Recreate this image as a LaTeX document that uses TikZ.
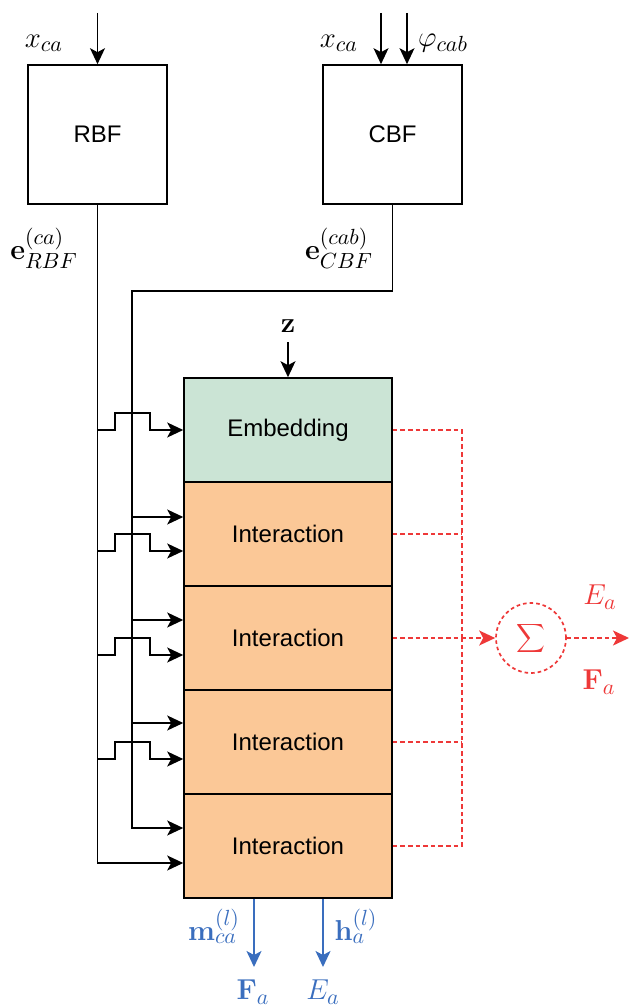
\documentclass[tikz,border=0pt]{standalone}
\usepackage[no-math]{fontspec}
\setmainfont{Liberation Sans}
\DeclareMathSizes{14.4}{14.4}{10.95}{8}
\usetikzlibrary{arrows.meta}
\definecolor{embfill}{RGB}{203,228,213}
\definecolor{intfill}{RGB}{251,200,151}
\definecolor{sumred}{RGB}{238,56,56}
\definecolor{outblue}{RGB}{58,110,190}

\begin{document}
\begin{tikzpicture}[x=0.5pt,y=-0.5pt,
  font=\fontsize{12}{14}\selectfont,
  line width=0.8pt,
  tip/.style={-{Stealth[length=8pt,width=7.5pt,inset=2pt]}},
  basisbox/.style={draw,minimum width=69.5pt,minimum height=69.5pt,inner sep=0pt},
  layer/.style={draw,minimum width=104pt,minimum height=52pt,inner sep=0pt},
  lbl/.style={inner sep=0pt,font=\fontsize{14.4}{16}\selectfont},
  rdash/.style={draw=sumred,line width=0.85pt,dash pattern=on 2.3pt off 1.5pt},
  redtip/.style={-{Stealth[length=8pt,width=7.5pt,inset=2pt,fill=sumred]}},
  bluearrow/.style={draw=outblue,tip},
]
\useasboundingbox (0,0) rectangle (630,1005);

% basis function blocks
\node[basisbox] (rbf) at (97.5,134.5) {RBF};
\node[basisbox] (cbf) at (392.5,134.5) {CBF};

% input arrows and their labels
\coordinate (rin) at (97.5,13);
\coordinate (cin1) at (381,13);
\coordinate (cin2) at (407,13);
\draw[tip] (rin) -- (rbf.north);
\draw[tip] (cin1) -- (cin1 |- cbf.north);
\draw[tip] (cin2) -- (cin2 |- cbf.north);
\node[lbl] (lxr) at (44,43) {$x_{ca}$};
\node[lbl] (lxc) at (339,43) {$x_{ca}$};
\node[lbl] (lphi) at (443,43) {$\varphi_{cab}$};
\node[lbl] (lerbf) at (44,248) {$\mathbf{e}_{RBF}^{(ca)}$};
\node[lbl] (lecbf) at (339,248) {$\mathbf{e}_{CBF}^{(cab)}$};

% embedding and interaction stack
\node[layer,fill=embfill] (emb) at (288,430) {Embedding};
\node[layer,fill=intfill] (int1) at (288,534) {Interaction};
\node[layer,fill=intfill] (int2) at (288,638) {Interaction};
\node[layer,fill=intfill] (int3) at (288,742) {Interaction};
\node[layer,fill=intfill] (int4) at (288,846) {Interaction};

% atom type input
\node[lbl] (lz) at (288,326) {$\mathbf{z}$};
\coordinate (zin) at (288,342);
\draw[tip] (zin) -- (emb.north);

% RBF trunk with hops over the CBF trunk
\coordinate (r0) at (97.5,430);
\coordinate (r1) at (97.5,551);
\coordinate (r2) at (97.5,655);
\coordinate (r3) at (97.5,759);
\coordinate (r4) at (97.5,863);
\draw[tip] (rbf.south) -- (r4) -- (int4.west |- r4);
\foreach \p/\b in {r0/emb,r1/int1,r2/int2,r3/int3}{
  \draw[tip] (\p) -- ++(17.5,0) -- ++(0,-17) -- ++(35,0) -- ++(0,17) -- (\b.west |- \p);
}

% CBF trunk
\coordinate (cturn) at (392.5,291);
\coordinate (cbend) at (132,291);
\coordinate (c1) at (132,517);
\coordinate (c2) at (132,620);
\coordinate (c3) at (132,723);
\coordinate (c4) at (132,828);
\draw[tip] (cbf.south) -- (cturn) -- (cbend) -- (c4) -- (int4.west |- c4);
\foreach \p/\b in {c1/int1,c2/int2,c3/int3}{
  \draw[tip] (\p) -- (\b.west |- \p);
}

% summation of the per-block outputs
\node[draw=sumred,circle,line width=0.85pt,dash pattern=on 1.8pt off 1.5pt,minimum size=35pt,inner sep=0pt,text=sumred,font=\fontsize{17}{19}\selectfont] (sum) at (531,638) {$\displaystyle\sum$};
\coordinate (busx) at (462,0);
\draw[rdash] (emb.east) -- (emb.east -| busx) -- (sum.west -| busx);
\draw[rdash] (int4.east) -- (int4.east -| busx) -- (sum.west -| busx);
\draw[rdash] (int1.east) -- (int1.east -| busx);
\draw[rdash] (int3.east) -- (int3.east -| busx);
\draw[rdash,redtip] (int2.east) -- (sum.west);
\coordinate (sout) at (629,638);
\draw[rdash,redtip] (sum.east) -- (sout);
\node[lbl,text=sumred] (lEs) at (600,597) {$E_a$};
\node[lbl,text=sumred] (lFs) at (599,682) {$\mathbf{F}_a$};

% direct outputs of the last block
\coordinate (mout) at (254,967);
\coordinate (hout) at (323,967);
\draw[bluearrow] (int4.south -| mout) -- (mout);
\draw[bluearrow] (int4.south -| hout) -- (hout);
\node[lbl,text=outblue] (lm) at (214,926) {$\mathbf{m}_{ca}^{(l)}$};
\node[lbl,text=outblue] (lh) at (356,926) {$\mathbf{h}_{a}^{(l)}$};
\node[lbl,text=outblue] (lFb) at (253,992) {$\mathbf{F}_a$};
\node[lbl,text=outblue] (lEb) at (323,992) {$E_a$};
\end{tikzpicture}
\end{document}
